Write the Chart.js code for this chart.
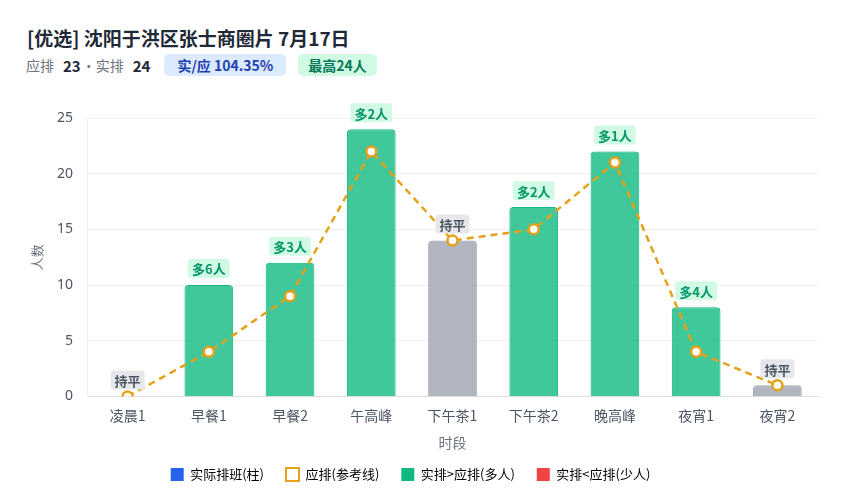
<!DOCTYPE html>
<html>
<head>
<meta charset="utf-8">
<script src="https://cdn.jsdelivr.net/npm/chart.js@4/dist/chart.umd.min.js"></script>
<style>
  html, body { margin: 0; padding: 0; background: #fff; }
  body { width: 850px; height: 500px; position: relative; overflow: hidden;
         font-family: "Noto Sans CJK SC", "Noto Sans", sans-serif; }
  #title { position: absolute; left: 27px; top: 24px; font-size: 19px; font-weight: bold; color: #1f2937; }
  #sub { position: absolute; left: 26px; top: 54px; font-size: 14px; color: #6b7280; display: flex; align-items: center; }
  #sub b { color: #1f2937; font-size: 15px; margin: 0 1px 0 9px; }
  #sub b.last { margin-right: 0; }
  .badge { display: inline-block; padding: 1px 10px; border-radius: 5px; font-weight: bold; font-size: 14px; }
  .blue { background: #dbeafe; color: #1e40af; margin-left: 14px; padding: 1px 13px; }
  .green { background: #d1fae5; color: #047857; margin-left: 12px; }
  #wrap { position: absolute; left: 0; top: 95px; width: 850px; height: 405px; }
</style>
</head>
<body>
<div id="title">[优选] 沈阳于洪区张士商圈片 7月17日</div>
<div id="sub">应排<b>23</b>·实排<b class="last">24</b><span class="badge blue">实/应 104.35%</span><span class="badge green">最高24人</span></div>
<div id="wrap"><canvas id="shiftChart"></canvas></div>
<script>
const periods = ["凌晨1", "早餐1", "早餐2", "午高峰", "下午茶1", "下午茶2", "晚高峰", "夜宵1", "夜宵2"];
const actualStaff = [0, 10, 12, 24, 14, 17, 22, 8, 1];
const plannedStaff = [0, 4, 9, 22, 14, 15, 21, 4, 1];
const yTicks = [0, 5, 10, 15, 20, 25];

function barFill(i) {
    const d = actualStaff[i] - plannedStaff[i];
    if (d > 0) return "rgba(16,185,129,0.8)";
    if (d < 0) return "rgba(239,68,68,0.8)";
    return "rgba(156,163,175,0.8)";
}
function barEdge(i) {
    const d = actualStaff[i] - plannedStaff[i];
    if (d > 0) return "#10b981";
    if (d < 0) return "#ef4444";
    return "#9ca3af";
}

const diffLabels = {
    id: "diffLabels",
    afterDatasetsDraw(chart) {
        const { ctx, scales: { y } } = chart
        const bars = chart.getDatasetMeta(1).data
        ctx.save()
        ctx.font = "bold 13px 'Noto Sans CJK SC', sans-serif"
        ctx.textAlign = "center"
        ctx.textBaseline = "middle"
        for (let i = 0; i < bars.length; i++) {
            const d = actualStaff[i] - plannedStaff[i]
            let text = "持平", bg = "#e5e7eb", fg = "#4b5563"
            if (d > 0) { text = "多" + d + "人"; bg = "#d1fae5"; fg = "#059669" }
            if (d < 0) { text = "少" + (-d) + "人"; bg = "#fee2e2"; fg = "#dc2626" }
            const top = y.getPixelForValue(Math.max(actualStaff[i], plannedStaff[i]))
            const w = ctx.measureText(text).width + 8
            const h = 19
            const cx = bars[i].x
            const cy = top - 7 - h / 2
            ctx.fillStyle = bg
            ctx.beginPath()
            ctx.roundRect(cx - w / 2, cy - h / 2, w, h, 3)
            ctx.fill()
            ctx.fillStyle = fg
            ctx.fillText(text, cx, cy + 1)
        }
        ctx.restore()
    }
}

const config = {
    data: {
        labels: periods,
        datasets: [
            {
                type: "line",
                label: "应排(参考线)",
                data: plannedStaff,
                borderColor: "#e3a21a",
                borderWidth: 2.5,
                borderDash: [7, 5],
                pointRadius: 5,
                pointBorderWidth: 2.5,
                pointBackgroundColor: "#fff",
                pointBorderColor: "#e3a21a",
                tension: 0,
                order: 0
            },
            {
                type: "bar",
                label: "实际排班(柱)",
                data: actualStaff,
                backgroundColor: periods.map((p, i) => barFill(i)),
                borderColor: periods.map((p, i) => barEdge(i)),
                borderWidth: 1,
                borderRadius: 4,
                borderSkipped: "bottom",
                barPercentage: 0.6,
                categoryPercentage: 1,
                order: 1
            }
        ]
    },
    options: {
        responsive: true,
        maintainAspectRatio: false,
        animation: false,
        layout: { padding: { top: 23, right: 32, left: 3, bottom: 9 } },
        scales: {
            x: {
                grid: { display: false },
                border: { color: "#d9dce1" },
                ticks: { color: "#4b5563", font: { size: 14, family: "'Noto Sans CJK SC'" }, padding: 3 },
                title: { display: true, text: "时段", color: "#6b7280", font: { size: 14, family: "'Noto Sans CJK SC'" }, padding: { top: 7, bottom: -5 } }
            },
            y: {
                min: 0,
                max: 25,
                afterBuildTicks(scale) { scale.ticks = yTicks.map(v => ({ value: v })) },
                afterFit(scale) { scale.width = 84 },
                grid: { color: "#eef0f3", drawTicks: false },
                border: { display: true, color: "#eef0f3" },
                ticks: { color: "#4b5563", font: { size: 14, family: "'Noto Sans', sans-serif" }, padding: 14 },
                title: { display: true, text: "人数", color: "#6b7280", font: { size: 13, family: "'Noto Sans CJK SC'" }, padding: { top: 26, bottom: 4 } }
            }
        },
        plugins: {
            legend: {
                position: "bottom",
                labels: {
                    boxWidth: 13,
                    boxHeight: 13,
                    useBorderRadius: true,
                    borderRadius: 3,
                    padding: 22,
                    color: "#4b5563",
                    font: { size: 13, family: "'Noto Sans CJK SC'" },
                    generateLabels() {
                        return [
                            { text: "实际排班(柱)", fillStyle: "#2563eb", strokeStyle: "#2563eb", lineWidth: 0 },
                            { text: "应排(参考线)", fillStyle: "#fff", strokeStyle: "#e3a21a", lineWidth: 2 },
                            { text: "实排>应排(多人)", fillStyle: "#10b981", strokeStyle: "#10b981", lineWidth: 0 },
                            { text: "实排<应排(少人)", fillStyle: "#ef4444", strokeStyle: "#ef4444", lineWidth: 0 }
                        ]
                    }
                },
                onClick() {}
            },
            tooltip: { enabled: false }
        }
    },
    plugins: [diffLabels]
};

const shiftChart = new Chart(document.getElementById("shiftChart"), config);
</script>
</body>
</html>
